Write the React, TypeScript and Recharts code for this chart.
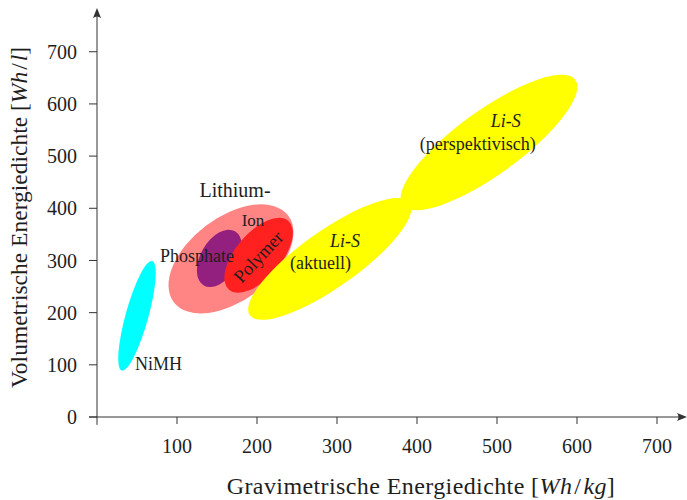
import {
  ScatterChart, Scatter, XAxis, YAxis, ReferenceLine, ReferenceDot,
} from "recharts";

// Battery technologies: centre of each region, end of its long axis, and width/length ratio
const techNames = ["NiMH", "Lithium-Ion", "Phosphate", "Polymer", "Li-S aktuell", "Li-S perspektivisch"];
const centreX = [50, 167.5, 153, 202, 291, 490];
const centreY = [194, 303, 304, 310, 303, 526];
const tipX = [69, 239, 172.5, 239, 391, 598];
const tipY = [299, 386, 356, 376, 411, 646];
const widthRatio = [0.2, 0.58, 0.6, 0.5, 0.29, 0.3];

// Region labels (anchor point in data units)
const labelTexts = ["Lithium-", "Ion", "Phosphate", "Polymer", "NiMH", "Li-S", "(aktuell)", "Li-S", "(perspektivisch)"];
const labelX = [172.5, 195, 125, 202, 47.5, 310, 279.4, 511, 476];
const labelY = [421, 366.6, 297, 306.6, 90, 326.4, 283.6, 556.3, 511.7];

const xTicks = [100, 200, 300, 400, 500, 600, 700];
const yTicks = [0, 100, 200, 300, 400, 500, 600, 700];

const X_MAX = 735;
const Y_MAX = 780;

const W = 687;
const H = 500;
const MARGIN = { top: 10, right: 2, left: 0, bottom: 0 };
const Y_AXIS_W = 97;
const X_AXIS_H = 83;
const KX = (W - MARGIN.left - MARGIN.right - Y_AXIS_W) / X_MAX;
const KY = (H - MARGIN.top - MARGIN.bottom - X_AXIS_H) / Y_MAX;

const FONT = '"Liberation Serif", "Times New Roman", serif';
const INK = "#1e1e1e";
const AXIS = "#333";

const fills = ["#00ffff", "#ff8585", "#93207f", "#ff2020", "#ffff00", "#ffff00"];
// per label: font size, italic, rotation, anchor
const labelLook: { size: number; italic?: boolean; rotate?: number; anchor?: "start" | "middle" }[] = [
  { size: 20 },
  { size: 17 },
  { size: 18 },
  { size: 18.5, rotate: -47 },
  { size: 18, anchor: "start" },
  { size: 18, italic: true },
  { size: 18 },
  { size: 18, italic: true },
  { size: 18 },
];

const regions = techNames.map((name, i) => ({
  name, x: centreX[i], y: centreY[i], tx: tipX[i], ty: tipY[i], ratio: widthRatio[i], idx: i,
}));

const labels = labelTexts.map((text, i) => ({ text, x: labelX[i], y: labelY[i], idx: i }));

function Region(props: any) {
  const { cx, cy, payload } = props;
  const dx = (payload.tx - payload.x) * KX;
  const dy = -(payload.ty - payload.y) * KY;
  const rx = Math.hypot(dx, dy);
  const angle = (Math.atan2(dy, dx) * 180) / Math.PI;
  return (
    <ellipse
      cx={cx}
      cy={cy}
      rx={rx}
      ry={rx * payload.ratio}
      transform={`rotate(${angle} ${cx} ${cy})`}
      fill={fills[payload.idx]}
    />
  );
}

function RegionLabel(props: any) {
  const { cx, cy, payload } = props;
  const look = labelLook[payload.idx];
  const rotated = look.rotate !== undefined;
  return (
    <text
      x={cx}
      y={cy}
      fontFamily={FONT}
      fontSize={look.size}
      fontStyle={look.italic ? "italic" : "normal"}
      fill={INK}
      textAnchor={look.anchor ?? "middle"}
      dominantBaseline={rotated ? "central" : "alphabetic"}
      transform={rotated ? `rotate(${look.rotate} ${cx} ${cy})` : undefined}
    >
      {payload.text}
    </text>
  );
}

function ArrowRight(props: any) {
  const { cx, cy } = props;
  const t = cx + 2;
  return <path d={`M${t},${cy} L${t - 10},${cy - 4} Q${t - 7},${cy} ${t - 10},${cy + 4} Z`} fill={AXIS} />;
}

function ArrowUp(props: any) {
  const { cx, cy } = props;
  const t = cy - 2;
  return <path d={`M${cx},${t} L${cx - 4},${t + 10} Q${cx},${t + 7} ${cx + 4},${t + 10} Z`} fill={AXIS} />;
}

function XTitle() {
  return (
    <text
      x={421}
      y={494}
      textAnchor="middle"
      fontFamily={FONT}
      fontSize={24}
      letterSpacing={0.4}
      fill={INK}
    >
      Gravimetrische Energiedichte [<tspan fontStyle="italic">Wh</tspan>
      <tspan dx={2}>/</tspan>
      <tspan dx={2} fontStyle="italic">kg</tspan>]
    </text>
  );
}

function YTitle() {
  return (
    <text
      x={27}
      y={217.5}
      textAnchor="middle"
      fontFamily={FONT}
      fontSize={23.5}
      fill={INK}
      transform="rotate(-90 27 217.5)"
    >
      Volumetrische Energiedichte [<tspan fontStyle="italic">Wh</tspan>
      <tspan dx={2}>/</tspan>
      <tspan dx={2} fontStyle="italic">l</tspan>]
    </text>
  );
}

export default function App() {
  return (
    <div style={{ position: "absolute", left: 0, top: 0, background: "#fff" }}>
      <ScatterChart width={W} height={H} margin={MARGIN}>
        <XAxis
          type="number"
          dataKey="x"
          domain={[0, X_MAX]}
          ticks={xTicks}
          height={X_AXIS_H}
          axisLine={false}
          tickSize={7}
          tickMargin={15}
          tickLine={{ stroke: AXIS }}
          tick={{ fontSize: 20, fill: INK, fontFamily: FONT }}
          label={<XTitle />}
        />
        <YAxis
          type="number"
          dataKey="y"
          domain={[0, Y_MAX]}
          ticks={yTicks}
          width={Y_AXIS_W}
          axisLine={false}
          tickSize={8}
          tickMargin={12}
          tickLine={{ stroke: AXIS }}
          tick={{ fontSize: 20, fill: INK, fontFamily: FONT }}
          label={<YTitle />}
        />
        <Scatter data={regions} shape={<Region />} isAnimationActive={false} />
        <Scatter data={labels} shape={<RegionLabel />} isAnimationActive={false} />
        <ReferenceLine
          segment={[{ x: -10, y: 0 }, { x: X_MAX, y: 0 }]}
          stroke={AXIS}
          strokeWidth={1}
          ifOverflow="visible"
        />
        <ReferenceLine
          segment={[{ x: 0, y: -15 }, { x: 0, y: Y_MAX }]}
          stroke={AXIS}
          strokeWidth={1}
          ifOverflow="visible"
        />
        <ReferenceDot x={X_MAX} y={0} shape={<ArrowRight />} ifOverflow="visible" />
        <ReferenceDot x={0} y={Y_MAX} shape={<ArrowUp />} ifOverflow="visible" />
      </ScatterChart>
    </div>
  );
}
